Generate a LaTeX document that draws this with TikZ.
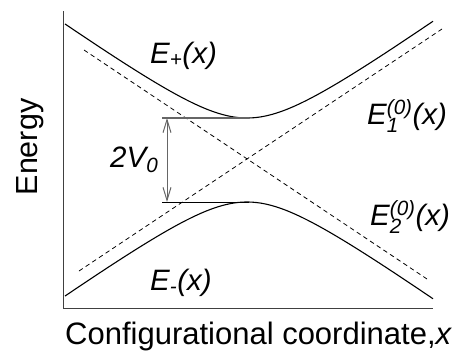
\documentclass[tikz,border=0pt]{standalone}
\usepackage{fontspec}
\setmainfont{Liberation Sans}
\usetikzlibrary{arrows.meta}
\newcommand{\EsubSup}[2]{E\makebox[0pt][l]{\raisebox{-0.1em}{\textsubscript{#1}}}\textsuperscript{#2}}
\begin{document}
\begin{tikzpicture}[x=1pt,y=-1pt,
  axisline/.style={draw=black!75, line width=1pt},
  curve/.style={draw=black, line width=1.1pt},
  diab/.style={draw=black, line width=0.8pt, dash pattern=on 4.5pt off 3.5pt},
  gapline/.style={draw=black!60, line width=1.1pt},
  lbl/.style={font=\fontsize{29.5}{32}\selectfont\itshape, anchor=base west, inner sep=0pt},
  axlbl/.style={font=\fontsize{31}{34}\selectfont, inner sep=0pt}]
\useasboundingbox (0,0) rectangle (463,351);
% axes
\coordinate (top) at (63,11);
\coordinate (orig) at (63,308);
\coordinate (right) at (433,308);
\draw[axisline] (top) -- (orig) -- (right);
% diabatic (dashed) lines
\coordinate (d1a) at (84,50);
\coordinate (d1b) at (427,279);
\coordinate (d2a) at (79,271);
\coordinate (d2b) at (442,29);
\draw[diab] (d1a) -- (d1b);
\draw[diab] (d2a) -- (d2b);
% adiabatic curves
\draw[curve] plot[domain=65:433, samples=120, smooth] (\x, {160 - 10*sqrt((0.0711*(\x-247))^2 + 4.2^2)});
\draw[curve] plot[domain=65:433, samples=120, smooth] (\x, {160 + 10*sqrt((0.0711*(\x-247))^2 + 4.2^2)});
% gap lines
\coordinate (ul) at (162,118);
\coordinate (ur) at (249,118);
\coordinate (ll) at (162,202);
\coordinate (lr) at (249,202);
\draw[gapline] (ul) -- (ur);
\draw[curve, line width=1pt] (ll) -- (lr);
\coordinate (at) at (167,118);
\coordinate (ab) at (167,202);
\draw[draw=black!60, line width=1pt, {Straight Barb[length=13pt,width=8pt]}-{Straight Barb[length=13pt,width=8pt]}] (at) -- (ab);
% labels
\node[lbl] (eplus) at (150,63) {E\textsubscript{+}(x)};
\node[lbl] (eminus) at (150,290) {E\textsubscript{-}(x)};
\node[lbl] (e1) at (367,124) {\EsubSup{1}{(0)}(x)};
\node[lbl] (e2) at (370,225) {\EsubSup{2}{(0)}(x)};
\node[lbl] (gap) at (110,167) {2V\textsubscript{0}};
\node[axlbl, rotate=90, anchor=base, font=\fontsize{30.5}{34}\selectfont] (energy) at (37,147) {Energy};
\node[axlbl, anchor=base west] (xlbl) at (65,344) {Configurational coordinate,\textit{x}};
\end{tikzpicture}
\end{document}
